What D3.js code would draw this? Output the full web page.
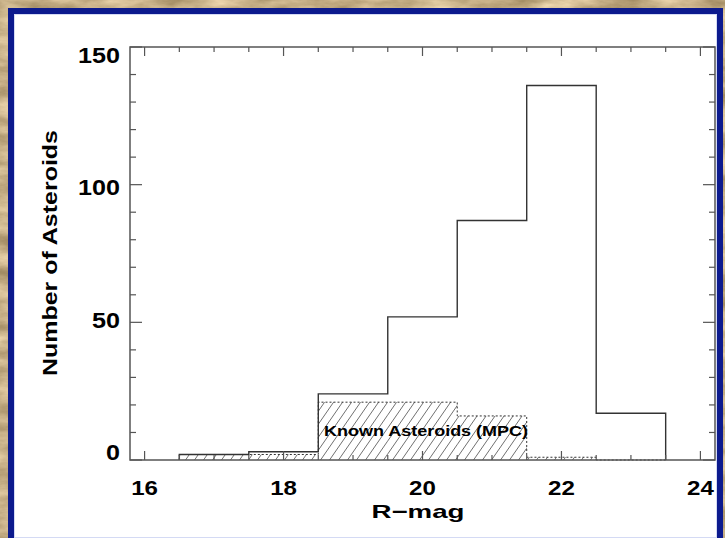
<!DOCTYPE html>
<html>
<head>
<meta charset="utf-8">
<script src="https://cdn.jsdelivr.net/npm/d3@7"></script>
<style>
  html, body { margin: 0; padding: 0; background: #cdb38a; }
  svg { display: block; }
  text { font-family: "Liberation Sans", Arial, sans-serif; fill: #000; }
</style>
</head>
<body>
<svg id="chart" width="725" height="538"></svg>
<script>
// ---- data ----
const binCenters = [17, 18, 19, 20, 21, 22, 23];
const allCounts = [2, 3, 24, 52, 87, 136, 17];
const knownCounts = [2, 2, 21, 21, 16, 1, 0];
const xTickLabels = [16, 18, 20, 22, 24];
const yTickLabels = [0, 50, 100, 150];
const xTitle = "R\u2212mag";
const yTitle = "Number of Asteroids";
const knownLabel = "Known Asteroids (MPC)";

const svg = d3.select("#chart");
const defs = svg.append("defs");

// parchment texture background
const f = defs.append("filter").attr("id", "parch").attr("x", 0).attr("y", 0).attr("width", 1).attr("height", 1)
  .attr("color-interpolation-filters", "sRGB");
f.append("feTurbulence").attr("type", "fractalNoise").attr("baseFrequency", "0.02 0.06").attr("numOctaves", 5).attr("seed", 3).attr("result", "n");
f.append("feColorMatrix").attr("in", "n").attr("type", "matrix")
  .attr("values", "0.5 0 0 0 0.53  0.5 0 0 0 0.44  0.5 0 0 0 0.28  0 0 0 0 1");
svg.append("rect").attr("x", 0).attr("y", 0).attr("width", 725).attr("height", 538).attr("filter", "url(#parch)");

// blue frame and white panel
svg.append("rect").attr("x", 11).attr("y", 11).attr("width", 709).attr("height", 530)
  .attr("fill", "#ffffff").attr("stroke", "#0c1a8e").attr("stroke-width", 6);
svg.append("rect").attr("x", 14.5).attr("y", 14.5).attr("width", 702).attr("height", 523)
  .attr("fill", "none").attr("stroke", "#d4daf4").attr("stroke-width", 1);

// hatch pattern
const pat = defs.append("pattern").attr("id", "hatch").attr("patternUnits", "userSpaceOnUse")
  .attr("width", 9).attr("height", 13);
pat.append("path").attr("d", "M-9,13 L0,0 M0,13 L9,0 M9,13 L18,0")
  .attr("stroke", "#4a4a4a").attr("stroke-width", 0.8).attr("fill", "none");

// scales
const pLeft = 130, pRight = 715, pTop = 47, pBottom = 460;
const x = d3.scaleLinear().domain([15.79, 24.21]).range([pLeft, pRight]);
const y = d3.scaleLinear().domain([0, 150]).range([pBottom, pTop]);

const g = svg.append("g");

// hatched known bars
g.selectAll("rect.known").data(binCenters.map((c, i) => ({ c, v: knownCounts[i] })).filter(d => d.v > 0))
  .enter().append("rect").attr("class", "known")
  .attr("x", d => x(d.c - 0.5)).attr("width", d => x(d.c + 0.5) - x(d.c - 0.5))
  .attr("y", d => y(d.v)).attr("height", d => y(0) - y(d.v))
  .attr("fill", "url(#hatch)");

function stepPoints(counts) {
  const pts = [[binCenters[0] - 0.5, 0]];
  counts.forEach((v, i) => {
    pts.push([binCenters[i] - 0.5, v]);
    pts.push([binCenters[i] + 0.5, v]);
  });
  pts.push([binCenters[binCenters.length - 1] + 0.5, 0]);
  return pts;
}
const line = d3.line().x(d => x(d[0])).y(d => y(d[1]));

// known outline (dotted)
g.append("path").attr("d", line(stepPoints(knownCounts)))
  .attr("fill", "none").attr("stroke", "#333").attr("stroke-width", 1).attr("stroke-dasharray", "2,2");

// total outline (solid)
g.append("path").attr("d", line(stepPoints(allCounts)))
  .attr("fill", "none").attr("stroke", "#333").attr("stroke-width", 1.4);

// axes box
const axisColor = "#555";
svg.append("rect").attr("x", pLeft).attr("y", pTop).attr("width", pRight - pLeft).attr("height", pBottom - pTop)
  .attr("fill", "none").attr("stroke", axisColor).attr("stroke-width", 1.5);

// x ticks (bottom and top), minor every 0.5, major every 2
const xt = d3.range(16, 24.01, 0.5);
const tickG = svg.append("g").attr("stroke", axisColor).attr("stroke-width", 1.2);
xt.forEach(t => {
  const major = Math.abs(t % 2) < 1e-9;
  const len = major ? 9 : 5;
  tickG.append("line").attr("x1", x(t)).attr("x2", x(t)).attr("y1", pBottom).attr("y2", pBottom - len);
  tickG.append("line").attr("x1", x(t)).attr("x2", x(t)).attr("y1", pTop).attr("y2", pTop + len);
});
// y ticks (left and right), minor every 10, major every 50
d3.range(0, 150.01, 10).forEach(t => {
  const major = t % 50 === 0;
  const len = major ? 12 : 6;
  tickG.append("line").attr("x1", pLeft).attr("x2", pLeft + len).attr("y1", y(t)).attr("y2", y(t));
  tickG.append("line").attr("x1", pRight).attr("x2", pRight - len).attr("y1", y(t)).attr("y2", y(t));
});

// tick labels
svg.selectAll("text.xl").data(xTickLabels).enter().append("text").attr("class", "xl")
  .attr("x", d => x(d)).attr("y", 495).attr("text-anchor", "middle")
  .attr("font-size", 20).attr("font-weight", "bold")
  .attr("textLength", d => String(d).length * 13.4).attr("lengthAdjust", "spacingAndGlyphs")
  .text(d => d);

svg.selectAll("text.yl").data(yTickLabels).enter().append("text").attr("class", "yl")
  .attr("x", 120).attr("y", d => y(d) + 8 * (d - 75) / 75 + 8).attr("text-anchor", "end")
  .attr("font-size", 22).attr("font-weight", "bold")
  .attr("textLength", d => String(d).length * 14).attr("lengthAdjust", "spacingAndGlyphs")
  .text(d => d);

// axis titles
svg.append("text").attr("x", 418).attr("y", 518).attr("text-anchor", "middle")
  .attr("font-size", 19).attr("font-weight", "bold")
  .attr("textLength", 93).attr("lengthAdjust", "spacingAndGlyphs").text(xTitle);

svg.append("text").attr("transform", "translate(57,253) rotate(-90)").attr("text-anchor", "middle")
  .attr("font-size", 20).attr("font-weight", "bold")
  .attr("textLength", 246).attr("lengthAdjust", "spacingAndGlyphs").text(yTitle);

// in-plot label
svg.append("text").attr("x", 324).attr("y", 436)
  .attr("font-size", 15).attr("font-weight", "bold")
  .attr("textLength", 204).attr("lengthAdjust", "spacingAndGlyphs").text(knownLabel);
</script>
</body>
</html>
